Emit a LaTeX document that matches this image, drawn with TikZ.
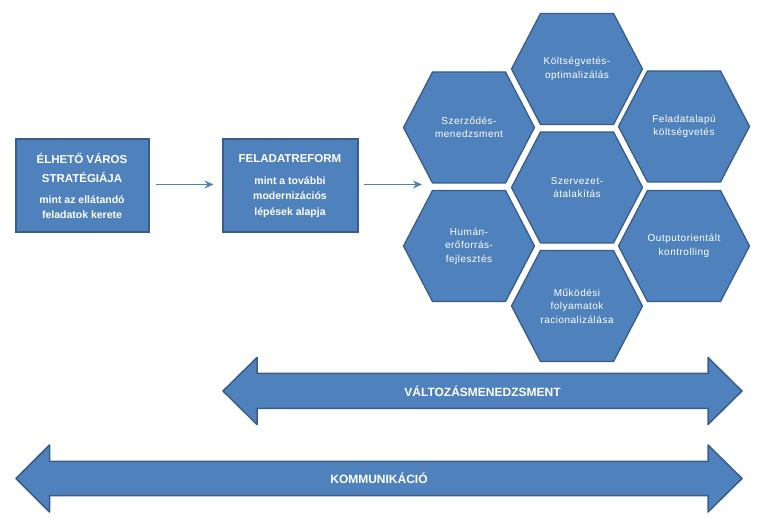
\documentclass[tikz,border=0pt]{standalone}
\usepackage{fontspec}
\setmainfont{Liberation Sans}
\newfontfamily\hexfont{Liberation Sans}[LetterSpace=5]
\usetikzlibrary{arrows.meta}
\usetikzlibrary{calc}
\definecolor{hexblue}{HTML}{4F81BD}
\definecolor{hexline}{HTML}{385D8A}
\newcommand{\boxtitle}{\fontsize{11.5}{15.5}\selectfont}

\begin{document}
\begin{tikzpicture}[x=1pt, y=-1pt,
    box/.style={draw=hexline, line width=2pt, fill=hexblue, minimum width=133pt, minimum height=93pt,
      inner sep=0pt, text=white, align=center, font=\bfseries\fontsize{10.5}{15.5}\selectfont},
    hexshape/.style={draw=hexline, line width=1.3pt, fill=hexblue, line join=round},
    hextext/.style={text=white, align=center, inner sep=0pt, font=\hexfont\fontsize{10}{13.5}\selectfont},
    band/.style={draw=hexline, line width=1.5pt, fill=hexblue, line join=round},
    bandtext/.style={text=white, inner sep=0pt, font=\bfseries\fontsize{12}{14}\selectfont},
    link/.style={draw=hexblue, line width=1.5pt, -{Stealth[length=9pt, width=8pt, inset=3pt]}},
    hexa/.pic={\path[hexshape] (-65.5,0) -- (-36.5,-55.5) -- (36.5,-55.5) -- (65.5,0) -- (36.5,55.5) -- (-36.5,55.5) -- cycle;}]
  \useasboundingbox (0,0) rectangle (766,518);

  % Starting boxes
  \node[box] (strat) at (82,186) {\boxtitle ÉLHETŐ VÁROS\\[3.5pt]\boxtitle STRATÉGIÁJA\\[5.5pt]mint az ellátandó\\feladatok kerete};
  \node[box, minimum width=135pt] (reform) at (290,186) {\boxtitle FELADATREFORM\\[6.5pt]mint a további\\modernizációs\\lépések alapja};

  % Hexagon cluster
  \pic at (577,69) {hexa};
  \node[hextext] (kolts) at (577,69) {Költségvetés-\\optimalizálás};
  \pic at (469,127.5) {hexa};
  \node[hextext] (szerz) at (469,127.5) {Szerződés-\\menedzsment};
  \pic at (684,126.5) {hexa};
  \node[hextext] (felad) at (684,126.5) {Feladatalapú\\költségvetés};
  \pic at (577,187.5) {hexa};
  \node[hextext] (szerv) at (577,187.5) {Szervezet-\\átalakítás};
  \pic at (469,246) {hexa};
  \node[hextext] (human) at (469,246) {Humán-\\erőforrás-\\fejlesztés};
  \pic at (684,246) {hexa};
  \node[hextext] (output) at (684,246) {Outputorientált\\kontrolling};
  \pic at (577,306) {hexa};
  \node[hextext] (mukod) at (577,306) {Működési\\folyamatok\\racionalizálása};

  % Connectors
  \coordinate (hexin) at (422,184.5);
  \draw[link, shorten <=6.5pt, shorten >=8pt] ([yshift=1.5pt]strat.east) -- ([yshift=1.5pt]reform.west);
  \draw[link, shorten <=5.5pt] ([yshift=1.5pt]reform.east) -- (hexin);

  % Change management
  \path[band] (223,391) -- (257,357.5) -- (257,373.5) -- (708,373.5) -- (708,357.5) -- (742,391)
    -- (708,424.5) -- (708,408.5) -- (257,408.5) -- (257,424.5) -- cycle;
  \node[bandtext] (valt) at (482.5,391) {VÁLTOZÁSMENEDZSMENT};

  % Communication
  \path[band] (16,478.5) -- (49.5,445) -- (49.5,461.5) -- (708,461.5) -- (708,445) -- (742,478.5)
    -- (708,512) -- (708,495.5) -- (49.5,495.5) -- (49.5,512) -- cycle;
  \node[bandtext] (komm) at (379,478.5) {KOMMUNIKÁCIÓ};
\end{tikzpicture}
\end{document}
